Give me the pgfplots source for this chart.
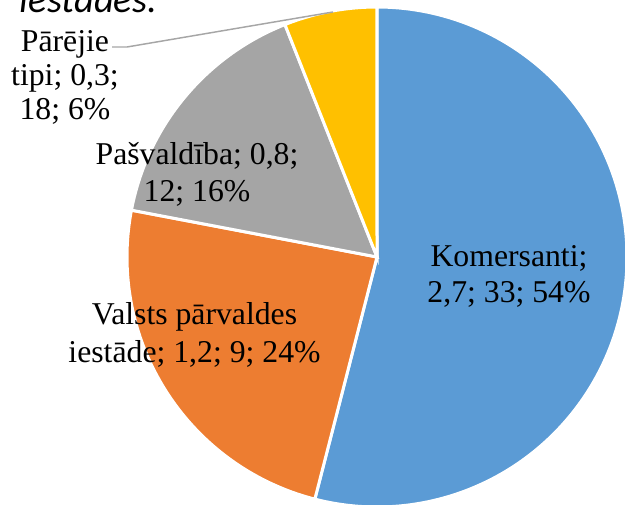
\documentclass[border=0pt]{standalone}
\usepackage{fontspec}
\setmainfont{Liberation Serif}
\newfontfamily\titlefont{Carlito}
\usepackage{pgfplots}
\pgfplotsset{compat=1.18}
\definecolor{cA}{HTML}{5B9BD5}
\definecolor{cB}{HTML}{ED7D31}
\definecolor{cC}{HTML}{A5A5A5}
\definecolor{cD}{HTML}{FFC000}
\newcommand\lab{\fontsize{23.8pt}{27pt}\selectfont}
% values: Komersanti, Valsts parvaldes iestade, Pasvaldiba, Parejie tipi
\def\vA{2.7}\def\vB{1.2}\def\vC{0.8}\def\vD{0.3}
\pgfmathsetmacro{\total}{\vA+\vB+\vC+\vD}
\pgfmathsetmacro{\aA}{0}
\pgfmathsetmacro{\aB}{\aA+\vA/\total*360}
\pgfmathsetmacro{\aC}{\aB+\vB/\total*360}
\pgfmathsetmacro{\aD}{\aC+\vC/\total*360}
\pgfmathsetmacro{\aE}{\aD+\vD/\total*360}
\begin{document}
\begin{tikzpicture}
\path[use as bounding box] (0,0) rectangle (468.75pt,378pt);
\begin{axis}[at={(0,0)},anchor=south west,scale only axis,
  width=468.75pt,height=378pt,
  xmin=-1.508,xmax=0.992,ymin=-0.988,ymax=1.028,
  hide axis,clip=true]
\addplot[fill=cA,draw=white,line width=2.25pt,domain=\aA:\aB,samples=150] ({sin(x)},{cos(x)}) -- (axis cs:0,0) -- cycle;
\addplot[fill=cB,draw=white,line width=2.25pt,domain=\aB:\aC,samples=80] ({sin(x)},{cos(x)}) -- (axis cs:0,0) -- cycle;
\addplot[fill=cC,draw=white,line width=2.25pt,domain=\aC:\aD,samples=60] ({sin(x)},{cos(x)}) -- (axis cs:0,0) -- cycle;
\addplot[fill=cD,draw=white,line width=2.25pt,domain=\aD:\aE,samples=30] ({sin(x)},{cos(x)}) -- (axis cs:0,0) -- cycle;
\draw[color=black!35,line width=1.1pt] (axis cs:-1.06,0.84) -- (axis cs:-1.0,0.84) -- (axis cs:-0.176,0.98);
\node[anchor=base,font=\lab,inner sep=0pt] at (axis cs:0.528,-0.04) {Komersanti;};
\node[anchor=base,font=\lab,inner sep=0pt] at (axis cs:0.528,-0.184) {2,7; 33; 54\%};
\node[anchor=base,font=\lab,inner sep=0pt] at (axis cs:-0.73,-0.272) {Valsts pārvaldes};
\node[anchor=base,font=\lab,inner sep=0pt] at (axis cs:-0.73,-0.42) {iestāde; 1,2; 9; 24\%};
\node[anchor=base,font=\lab,inner sep=0pt] at (axis cs:-0.72,0.368) {Pašvaldība; 0,8;};
\node[anchor=base,font=\lab,inner sep=0pt] at (axis cs:-0.72,0.22) {12; 16\%};
\node[anchor=base,font=\lab,inner sep=0pt] at (axis cs:-1.248,0.82) {Pārējie};
\node[anchor=base,font=\lab,inner sep=0pt] at (axis cs:-1.248,0.684) {tipi; 0,3;};
\node[anchor=base,font=\lab,inner sep=0pt] at (axis cs:-1.248,0.548) {18; 6\%};
\node[anchor=base west,inner sep=0pt,font={\titlefont\itshape\fontsize{29pt}{34pt}\selectfont}] at (axis cs:-1.43,0.976) {iestādes.};
\end{axis}
\end{tikzpicture}
\end{document}
